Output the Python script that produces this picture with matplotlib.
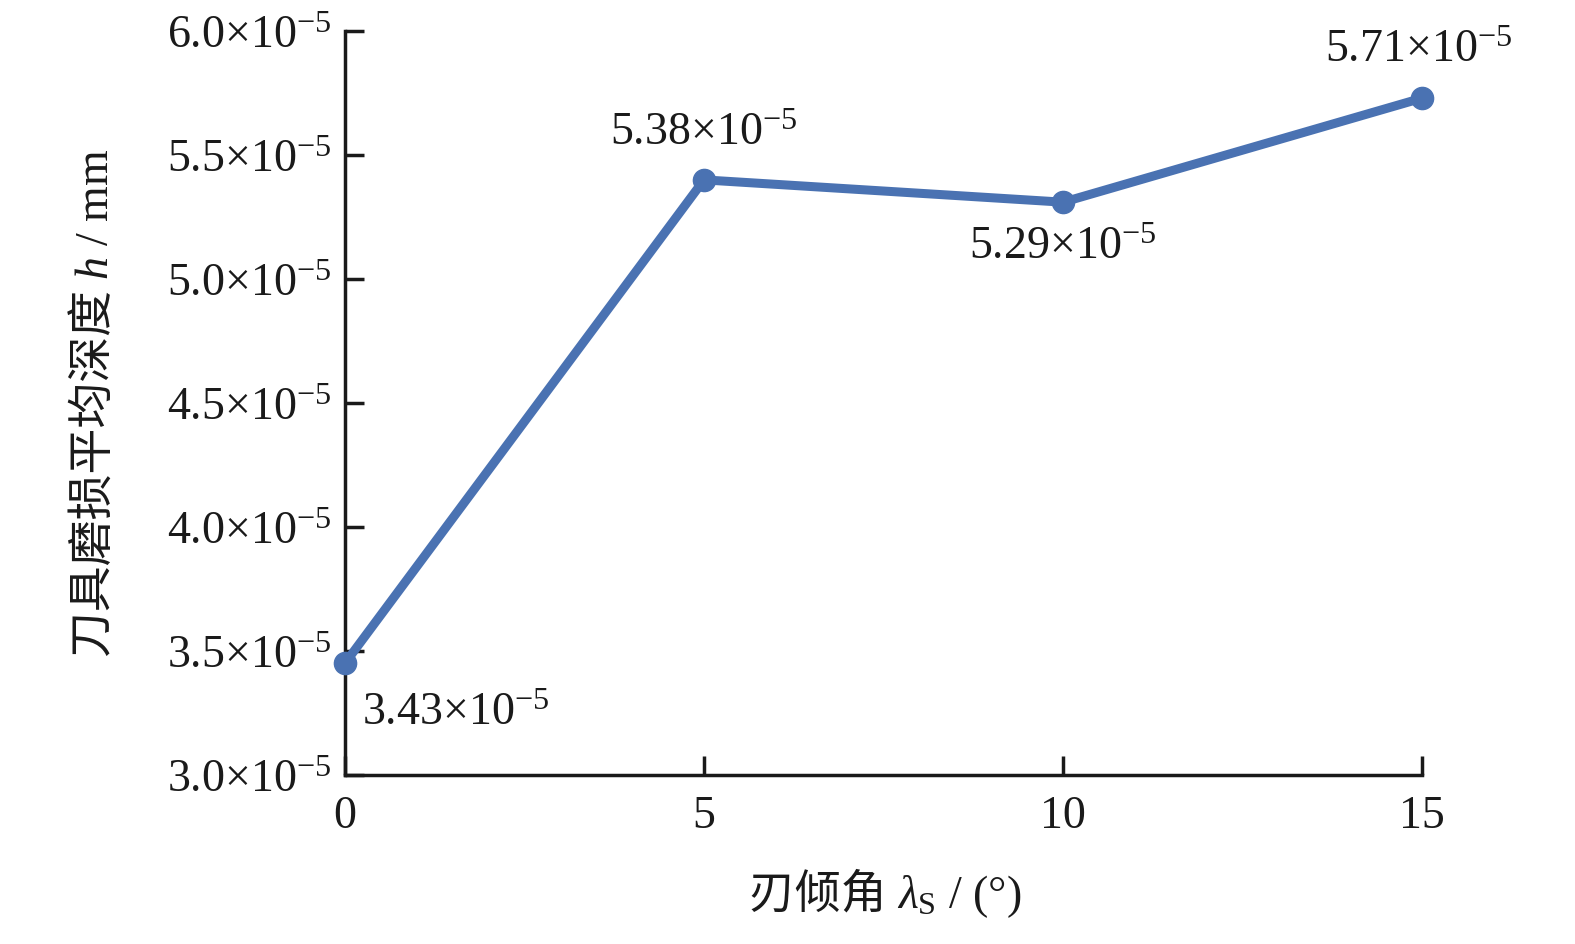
import numpy as np
import matplotlib
matplotlib.use('Agg')
import matplotlib.pyplot as plt

# tilt angle (deg) and mean wear depth (x1e-5 mm)
angles = [0, 5, 10, 15]
depth = [3.45, 5.40, 5.31, 5.73]
depth_labels = ['3.43', '5.38', '5.29', '5.71']
yticks = [3.0, 3.5, 4.0, 4.5, 5.0, 5.5, 6.0]
xticks = [0, 5, 10, 15]

plt.rcParams['font.family'] = ['Liberation Serif', 'Noto Sans CJK SC']
plt.rcParams['mathtext.fontset'] = 'custom'
plt.rcParams['mathtext.rm'] = 'Liberation Serif'
plt.rcParams['mathtext.it'] = 'Liberation Serif:italic'
plt.rcParams['mathtext.bf'] = 'Liberation Serif:bold'

fs = 33
col = '#4a72b2'
tc = '#1a1a1a'

def sci(s):
    return r'$\mathregular{' + s + r'{\times}10^{-5}}$'

fig = plt.figure(figsize=(15.75, 9.45), dpi=100)
ax = fig.add_axes([0.219, 0.179, 0.684, 0.787])

ax.plot(angles, depth, color=col, lw=6.5, marker='o', ms=16, clip_on=False, zorder=3)

# value labels: (dx, dy) in pixels, alignment
offs = [(17, -49, 'left'), (0, 47, 'center'), (0, -45, 'center'), (-4, 48, 'center')]
for x, y, lab, (dx, dy, ha) in zip(angles, depth, depth_labels, offs):
    ax.annotate(sci(lab), (x, y), xytext=(dx, dy),
                textcoords='offset pixels', ha=ha, va='center', fontsize=fs, color=tc)

ax.set_xlim(0, 15)
ax.set_ylim(3.0, 6.0)
ax.set_xticks(xticks)
ax.set_xticklabels([str(t) for t in xticks])
ax.set_yticks(yticks)
ax.set_yticklabels([sci('%.1f' % t) for t in yticks])
ax.tick_params(direction='in', length=14, width=2.5, labelsize=fs, pad=10, colors=tc)
ax.tick_params(axis='x', pad=14)

for s in ['top', 'right']:
    ax.spines[s].set_visible(False)
for s in ['left', 'bottom']:
    ax.spines[s].set_linewidth(2.5)
    ax.spines[s].set_color(tc)

# axis titles built from pieces (CJK part + serif math part), baseline aligned
r = fig.canvas.get_renderer()
W, H = fig.bbox.width, fig.bbox.height

def chain(pieces, x0, y0, rot):
    objs = []
    for txt, fam in pieces:
        t = fig.text(0, 0, txt, fontsize=fs, color=tc, family=fam, rotation=rot,
                     ha='left', va='baseline', rotation_mode='anchor')
        objs.append(t)
    sizes = [o.get_window_extent(r) for o in objs]
    if rot == 0:
        total = sum(b.width for b in sizes)
        pos = x0 - total / 2
        for o, b in zip(objs, sizes):
            o.set_position((pos / W, y0 / H))
            pos += b.width
    else:
        total = sum(b.height for b in sizes)
        pos = y0 - total / 2
        for o, b in zip(objs, sizes):
            o.set_position((x0 / W, pos / H))
            pos += b.height

chain([('刃倾角 ', 'Noto Sans CJK SC'), (r'$\lambda_\mathrm{S}$ / (°)', 'Liberation Serif')],
      885, H - 908, 0)
chain([('刀具磨损平均深度 ', 'Noto Sans CJK SC'), (r'$h$ / mm', 'Liberation Serif')],
      108, H - 403, 90)

fig.savefig('out.png', dpi=100)
